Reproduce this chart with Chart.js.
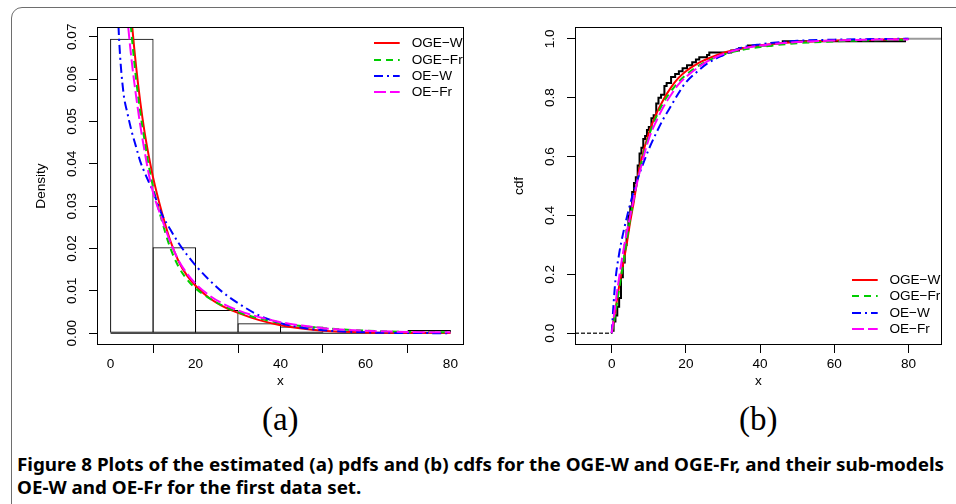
<!DOCTYPE html>
<html>
<head>
<meta charset="utf-8">
<script src="https://cdn.jsdelivr.net/npm/chart.js@4.4.1/dist/chart.umd.min.js"></script>
<style>
html, body { margin: 0; padding: 0; background: #fff; }
body { width: 956px; height: 504px; position: relative; overflow: hidden; font-family: "Liberation Sans", Arial, sans-serif; }
#frame { position: absolute; left: 11px; top: 7px; width: 1000px; height: 600px; border: 1px solid #6e6e6e; border-radius: 11px; box-sizing: border-box; }
.panel { position: absolute; top: 0; }
.legend { position: absolute; top: 0; color: #000; }
.lrow { position: absolute; left: 0; height: 16px; width: 120px; white-space: nowrap; }
.lrow svg { position: absolute; left: 0; top: 0; }
.lrow span { position: absolute; top: 0; line-height: 16px; }
.sub { position: absolute; width: 200px; text-align: center; font-family: "Liberation Serif", "Times New Roman", serif; font-size: 33px; line-height: 33px; }
.cap { position: absolute; left: 16.7px; font-family: "Noto Sans", sans-serif; font-weight: bold; font-size: 17px; line-height: 17px; white-space: nowrap; transform-origin: 0 0; }
</style>
</head>
<body>
<div id="frame"></div>
<canvas id="pdfChart" class="panel" width="478" height="400" style="left:0"></canvas>
<canvas id="cdfChart" class="panel" width="478" height="400" style="left:478px"></canvas>
<div id="pdfLegend" class="legend" style="left:374.3px"></div>
<div id="cdfLegend" class="legend" style="left:852px"></div>
<div class="sub" style="left:180.3px;top:403px">(a)</div>
<div class="sub" style="left:658.3px;top:403px">(b)</div>
<div id="cap1" class="cap" style="top:456px">Figure 8 Plots of the estimated (a) pdfs and (b) cdfs for the OGE-W and OGE-Fr, and their sub-models</div>
<div id="cap2" class="cap" style="top:479px">OE-W and OE-Fr for the first data set.</div>
<script>
// series
const seriesNames = ['OGE\u2212W', 'OGE\u2212Fr', 'OE\u2212W', 'OE\u2212Fr'];
const seriesColors = ['#ff0000', '#00cd00', '#0000ff', '#ff00ff'];
const seriesDash = [[], [7, 5], [9, 4, 2, 4], [12, 4]];

// (a) histogram + fitted pdfs
const histBreaks = [0, 10, 20, 30, 40, 50, 60, 70, 80];
const histDensity = [0.0695, 0.0203, 0.0055, 0.00234, 0.00156, 0, 0, 0.00078];

const pdfX    = [1, 2, 3, 4, 5, 6, 7, 8, 9, 10, 12, 14, 16, 18, 20, 23, 26, 30, 35, 40, 45, 50, 60, 70, 80];
const pdfOGEW = [0.150, 0.125, 0.104, 0.087, 0.0735, 0.063, 0.0545, 0.0475, 0.0418, 0.0368, 0.0288, 0.0220, 0.0170, 0.0136, 0.0112, 0.0085, 0.0066, 0.0048, 0.0031, 0.0019, 0.0011, 0.0006, 0.0002, 0.0001, 0.00003];
const pdfOGEFr = [0.135, 0.113, 0.096, 0.082, 0.070, 0.060, 0.052, 0.0455, 0.0395, 0.0345, 0.0268, 0.0203, 0.0157, 0.0127, 0.0106, 0.0084, 0.0067, 0.0050, 0.0035, 0.0024, 0.0017, 0.0012, 0.0006, 0.0003, 0.0002];
const pdfOEW  = [0.095, 0.0695, 0.057, 0.0518, 0.0475, 0.0440, 0.0405, 0.0380, 0.0357, 0.0335, 0.0282, 0.0246, 0.0213, 0.0185, 0.0160, 0.0128, 0.0100, 0.0071, 0.0042, 0.0024, 0.0013, 0.0007, 0.0002, 0.00005, 0.00001];
const pdfOEFr = [0.125, 0.104, 0.087, 0.074, 0.064, 0.056, 0.049, 0.043, 0.0375, 0.0332, 0.0272, 0.0217, 0.0172, 0.0141, 0.0117, 0.0091, 0.0072, 0.0054, 0.0038, 0.0026, 0.0018, 0.0012, 0.0006, 0.0003, 0.0002];

const pdfXTicks = [0, 20, 40, 60, 80];
const pdfYTicks = [0, 0.01, 0.02, 0.03, 0.04, 0.05, 0.06, 0.07];

// (b) empirical cdf + fitted cdfs
const ecdfX = [0.08, 0.5, 1.0, 1.5, 2.0, 2.5, 3.0, 3.5, 4.0, 4.5, 5.0, 5.5, 6.0, 6.5, 7.0, 7.5, 8.0, 8.5, 9.0, 9.5, 10.0, 10.7, 11.3, 12.0, 12.6, 13.3, 14.2, 14.8, 16.0, 17.1, 18.1, 19.1, 20.3, 21.7, 22.7, 23.6, 25.7, 26.3, 32.2, 34.3, 36.7, 43.0, 46.1, 79.05];
const ecdfF = [0.008, 0.04, 0.06, 0.09, 0.12, 0.19, 0.24, 0.30, 0.35, 0.40, 0.43, 0.48, 0.51, 0.53, 0.57, 0.61, 0.63, 0.66, 0.67, 0.69, 0.70, 0.73, 0.74, 0.78, 0.80, 0.81, 0.84, 0.85, 0.87, 0.88, 0.89, 0.90, 0.91, 0.92, 0.93, 0.937, 0.945, 0.953, 0.96, 0.968, 0.977, 0.984, 0.992, 1.0];

const cdfX    = [0, 0.5, 1, 2, 3, 4, 5, 6, 7, 8, 10, 12, 14, 16, 18, 20, 23, 26, 30, 35, 40, 50, 60, 70, 80];
const cdfOGEW = [0, 0.04, 0.08, 0.16, 0.23, 0.30, 0.38, 0.45, 0.53, 0.59, 0.68, 0.745, 0.795, 0.835, 0.867, 0.89, 0.915, 0.933, 0.952, 0.967, 0.978, 0.989, 0.994, 0.997, 0.999];
const cdfOGEFr = [0, 0.03, 0.07, 0.15, 0.23, 0.31, 0.39, 0.46, 0.52, 0.58, 0.67, 0.735, 0.785, 0.822, 0.853, 0.877, 0.905, 0.926, 0.946, 0.962, 0.972, 0.985, 0.991, 0.995, 0.997];
const cdfOEW  = [0, 0.10, 0.18, 0.27, 0.335, 0.39, 0.44, 0.485, 0.525, 0.56, 0.625, 0.68, 0.73, 0.772, 0.815, 0.852, 0.888, 0.918, 0.944, 0.970, 0.981, 0.993, 0.997, 0.999, 1.0];
const cdfOEFr = [0, 0.05, 0.10, 0.19, 0.27, 0.34, 0.40, 0.46, 0.52, 0.57, 0.66, 0.72, 0.77, 0.81, 0.845, 0.87, 0.90, 0.925, 0.948, 0.966, 0.977, 0.989, 0.994, 0.997, 0.998];

const cdfXTicks = [0, 20, 40, 60, 80];
const cdfYTicks = [0, 0.2, 0.4, 0.6, 0.8, 1.0];

// axis limits (R style, 4% beyond the data range)
const pdfXMin = -3.2, pdfXMax = 83.2, pdfYMin = -0.00278, pdfYMax = 0.0723;
const cdfXMin = -9.9, cdfXMax = 89.03, cdfYMin = -0.04, cdfYMax = 1.04;

const fontFamily = '"Liberation Sans", Arial, Helvetica, sans-serif';
const fs = 13.6;
const measureCtx = document.createElement('canvas').getContext('2d');
function textWidth(s, size) {
    measureCtx.font = size + 'px ' + fontFamily;
    return measureCtx.measureText(s).width;
}

Chart.defaults.font.family = fontFamily;
Chart.defaults.font.size = fs;
Chart.defaults.color = '#000';

const xAxisH = 36.6 + 0.6 * fs;

function makeScales(xMin, xMax, xTickVals, yMin, yMax, yTickVals, yDigits, yTitle) {
    const yLabels = yTickVals.map(v => v.toFixed(yDigits));
    const widest = Math.max(...yLabels.map(s => textWidth(s, fs)));
    const grid = () => ({ display: true, drawOnChartArea: false, drawTicks: true, tickLength: 8, color: '#000', lineWidth: 1 });
    return {
        x: {
            type: 'linear', position: 'bottom', min: xMin, max: xMax, offset: false,
            afterBuildTicks: s => { s.ticks = xTickVals.map(v => ({ value: v })); },
            afterFit: s => { s.height = xAxisH; },
            grid: grid(), border: { display: false },
            ticks: { padding: 10.3 - 0.55 * fs, maxRotation: 0, minRotation: 0, autoSkip: false, callback: v => String(v) },
            title: { display: true, text: 'x', padding: { top: 0, bottom: 0 } }
        },
        y: {
            type: 'linear', position: 'left', min: yMin, max: yMax,
            afterBuildTicks: s => { s.ticks = yTickVals.map(v => ({ value: v })); },
            afterFit: s => { s.width = 67; },
            grid: grid(), border: { display: false },
            ticks: { padding: 16.3 - widest / 2, minRotation: 90, maxRotation: 90, crossAlign: 'center', autoSkip: false, callback: v => v.toFixed(yDigits) },
            title: { display: true, text: yTitle, padding: { top: 11 - 0.6 * fs, bottom: 0 } }
        }
    };
}

const curveDatasets = (xs, series) => series.map((ys, i) => ({
    type: 'line', label: seriesNames[i],
    data: xs.map((x, j) => ({ x, y: ys[j] })),
    borderColor: seriesColors[i], borderDash: seriesDash[i], borderWidth: 2,
    pointRadius: 0, cubicInterpolationMode: 'monotone', fill: false, clip: 0, order: 4 - i
}));

// box round the plot region, like R's box()
const plotBox = {
    id: 'plotBox',
    afterDraw(chart) {
        const { ctx, chartArea: a } = chart;
        ctx.save();
        ctx.strokeStyle = '#000';
        ctx.lineWidth = 1;
        ctx.strokeRect(a.left + 0.5, a.top + 0.5, a.right - a.left - 1, a.bottom - a.top - 1);
        ctx.restore();
    }
};

const baseOptions = (scales) => ({
    responsive: false, animation: false, devicePixelRatio: 1, events: [],
    layout: { padding: { left: 30, right: 14, top: 27, bottom: 400 - 345 - xAxisH } },
    plugins: { legend: { display: false }, tooltip: { enabled: false } },
    scales
});

const pdfChart = new Chart(document.getElementById('pdfChart'), {
    type: 'line',
    data: {
        datasets: [
            {
                type: 'bar', label: 'hist',
                data: histDensity.map((d, i) => ({ x: (histBreaks[i] + histBreaks[i + 1]) / 2, y: d })),
                backgroundColor: 'rgba(0,0,0,0)', borderColor: '#000', borderWidth: 1, borderSkipped: false,
                barPercentage: 1.0235, categoryPercentage: 1, grouped: false, order: 10, clip: 0
            },
            {
                type: 'line', label: 'base',
                data: [{ x: histBreaks[0], y: 0 }, { x: histBreaks[histBreaks.length - 1], y: 0 }],
                borderColor: '#000', borderWidth: 1, pointRadius: 0, order: 11, clip: 0
            },
            ...curveDatasets(pdfX, [pdfOGEW, pdfOGEFr, pdfOEW, pdfOEFr])
        ]
    },
    options: baseOptions(makeScales(pdfXMin, pdfXMax, pdfXTicks, pdfYMin, pdfYMax, pdfYTicks, 2, 'Density')),
    plugins: [plotBox]
});

const ecdfLast = ecdfX.length - 1;
const cdfChart = new Chart(document.getElementById('cdfChart'), {
    type: 'line',
    data: {
        datasets: [
            // flat ends of the step function, left of the first and right of the last jump
            {
                type: 'line', label: 'ecdfLeft',
                data: [{ x: cdfXMin, y: 0 }, { x: ecdfX[0], y: 0 }],
                borderColor: '#333', borderDash: [4, 2], borderWidth: 1.5, pointRadius: 0, order: 12, clip: 0
            },
            {
                type: 'line', label: 'ecdfRight',
                data: [{ x: ecdfX[ecdfLast], y: ecdfF[ecdfLast] }, { x: cdfXMax, y: ecdfF[ecdfLast] }],
                borderColor: '#9a9a9a', borderWidth: 2, pointRadius: 0, order: 12, clip: 0
            },
            {
                type: 'line', label: 'ecdf',
                data: ecdfX.map((x, i) => ({ x, y: ecdfF[i] })),
                stepped: 'before', borderColor: '#000', borderWidth: 2, pointRadius: 0, order: 9, clip: 0
            },
            ...curveDatasets(cdfX, [cdfOGEW, cdfOGEFr, cdfOEW, cdfOEFr])
        ]
    },
    options: baseOptions(makeScales(cdfXMin, cdfXMax, cdfXTicks, cdfYMin, cdfYMax, cdfYTicks, 1, 'cdf')),
    plugins: [plotBox]
});

// legend, built from the chart's own dataset styles
function buildLegend(id, firstRowY, chart) {
    const box = document.getElementById(id);
    box.style.fontSize = fs + 'px';
    const sets = seriesNames.map(n => chart.data.datasets.find(d => d.label === n));
    sets.forEach((d, i) => {
        const y = firstRowY + i * 16.3;
        const row = document.createElement('div');
        row.className = 'lrow';
        row.style.top = (y - 8) + 'px';
        const dash = (d.borderDash || []).join(' ');
        row.innerHTML =
            `<svg width="27" height="16"><line x1="0" y1="8" x2="25.7" y2="8" stroke="${d.borderColor}" stroke-width="2"${dash ? ` stroke-dasharray="${dash}"` : ''}/></svg>` +
            `<span style="left:37.4px">${d.label}</span>`;
        box.appendChild(row);
    });
}
buildLegend('pdfLegend', 43.3, pdfChart);
buildLegend('cdfLegend', 280, cdfChart);

// squeeze the caption to the width of the original line
function fitCaption() {
    const c1 = document.getElementById('cap1');
    const c2 = document.getElementById('cap2');
    c1.style.transform = c2.style.transform = '';
    const k = 927 / c1.getBoundingClientRect().width;
    [c1, c2].forEach(c => { c.style.transform = `scaleX(${k})`; });
}
fitCaption();
</script>
</body>
</html>
